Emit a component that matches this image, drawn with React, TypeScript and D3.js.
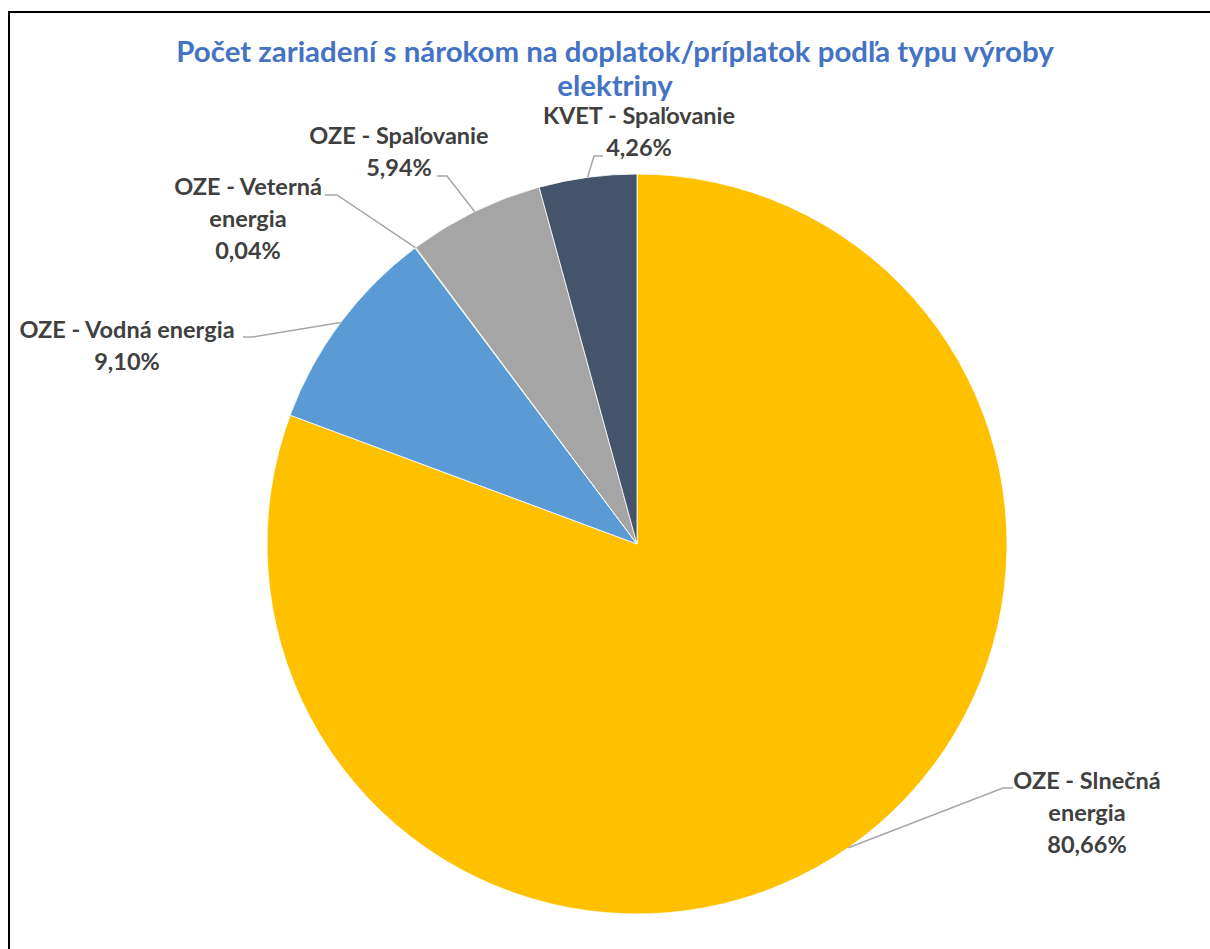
import React, { useEffect, useRef } from 'react';
import * as d3 from 'd3';

const categories = [
  'OZE - Slnečná energia',
  'OZE - Vodná energia',
  'OZE - Veterná energia',
  'OZE - Spaľovanie',
  'KVET - Spaľovanie',
];
const shares = [80.66, 9.1, 0.04, 5.94, 4.26];
const labelLines = [
  ['OZE - Slnečná', 'energia', '80,66%'],
  ['OZE - Vodná energia', '9,10%'],
  ['OZE - Veterná', 'energia', '0,04%'],
  ['OZE - Spaľovanie', '5,94%'],
  ['KVET - Spaľovanie', '4,26%'],
];
const colors = ['#FFC000', '#5B9BD5', '#70AD47', '#A5A5A5', '#44546A'];
const title = ['Počet zariadení s nárokom na doplatok/príplatok podľa typu výroby', 'elektriny'];

// label placement (center x, first baseline, leader end, elbow)
const labelLayout = [
  { x: 1087, y: 789, end: [1013, 788], elbow: [1003, 788] },
  { x: 127, y: 338, end: [243, 337], elbow: [253, 337] },
  { x: 248, y: 195, end: [325, 195], elbow: [337, 195] },
  { x: 399, y: 144, end: [437, 176], elbow: [447, 176] },
  { x: 639, y: 124, end: [603, 156], elbow: [594, 156] },
];

const W = 1210;
const H = 949;
const cx = 637;
const cy = 544;
const radius = 370;
const font = 'Lato, "Open Sans", sans-serif';

export default function App() {
  const svgRef = useRef<SVGSVGElement | null>(null);

  useEffect(() => {
    const svg = d3.select(svgRef.current);
    svg.selectAll('*').remove();

    svg.append('rect')
      .attr('x', 0).attr('y', 0).attr('width', W).attr('height', H)
      .attr('fill', '#fff');

    // frame: only left and top edges fall inside the picture
    svg.append('path')
      .attr('d', `M9,${H} V12 H${W}`)
      .attr('fill', 'none').attr('stroke', '#000').attr('stroke-width', 2);

    const data = categories.map((c, i) => ({ name: c, value: shares[i], i }));
    const pie = d3.pie<any>().sort(null).value(d => d.value);
    const arcs = pie(data);
    const arc = d3.arc<any>().innerRadius(0).outerRadius(radius);
    const edge = d3.arc<any>().innerRadius(radius).outerRadius(radius);

    const g = svg.append('g').attr('transform', `translate(${cx},${cy})`);
    g.selectAll('path')
      .data(arcs)
      .join('path')
      .attr('d', arc as any)
      .attr('fill', d => colors[d.data.i])
      .attr('stroke', '#fff')
      .attr('stroke-width', 0.8);

    // leader lines
    svg.append('g')
      .selectAll('polyline')
      .data(arcs)
      .join('polyline')
      .attr('fill', 'none')
      .attr('stroke', '#A6A6A6')
      .attr('stroke-width', 1.5)
      .attr('points', d => {
        const [ex, ey] = edge.centroid(d);
        const l = labelLayout[d.data.i];
        return [[cx + ex, cy + ey], l.elbow, l.end].map(p => p.join(',')).join(' ');
      });

    // data labels
    const lab = svg.append('g')
      .attr('font-family', font)
      .attr('font-weight', 700)
      .attr('font-size', 23.5)
      .attr('fill', '#404040')
      .attr('text-anchor', 'middle');
    labelLines.forEach((lines, i) => {
      const l = labelLayout[i];
      const t = lab.append('text').attr('x', l.x).attr('y', l.y);
      lines.forEach((s, k) => {
        t.append('tspan').attr('x', l.x).attr('dy', k === 0 ? 0 : 32).text(s);
      });
    });

    // title
    const tt = svg.append('text')
      .attr('font-family', font)
      .attr('font-weight', 700)
      .attr('font-size', 29.4)
      .attr('fill', '#4472C4')
      .attr('text-anchor', 'middle')
      .attr('x', 615)
      .attr('y', 62);
    title.forEach((s, k) => {
      tt.append('tspan').attr('x', 615).attr('dy', k === 0 ? 0 : 34).text(s);
    });
  }, []);

  return (
    <svg
      ref={svgRef}
      width={W}
      height={H}
      style={{ position: 'absolute', left: 0, top: 0, display: 'block', overflow: 'hidden' }}
    />
  );
}
